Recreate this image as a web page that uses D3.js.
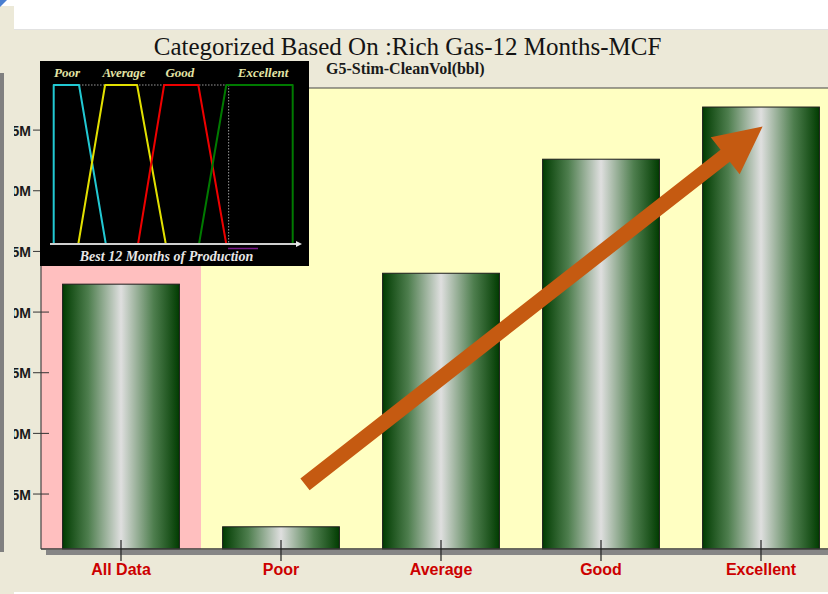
<!DOCTYPE html>
<html>
<head>
<meta charset="utf-8">
<script src="https://cdn.jsdelivr.net/npm/d3@7"></script>
<style>
  html, body { margin: 0; padding: 0; background: #ffffff; }
  svg { display: block; }
</style>
</head>
<body>
<svg id="chart" width="828" height="594"></svg>
<script>
// ---- data ----
const categories = ["All Data", "Poor", "Average", "Good", "Excellent"];
const values = [22.3, 2.3, 23.2, 32.6, 36.9];           // millions of bbl
const yTicks = [5, 10, 15, 20, 25, 30, 35];
const yDomain = [0.47, 38.47];

// membership legend (inset): class names, label centres and trapezoid breakpoints
const insetClasses = ["Poor", "Average", "Good", "Excellent"];
const insetLabelPos = [5.6, 29.4, 52.8, 87.6];
const insetColors = ["#22c8d2", "#e2e000", "#ee0000", "#007a00"];
const insetShapes = [
  [[0, 0], [0, 1], [10.6, 1], [21.8, 0]],
  [[10.3, 0], [21.5, 1], [34.9, 1], [46.9, 0]],
  [[35.3, 0], [46.2, 1], [60.5, 1], [72.2, 0]],
  [[60.8, 0], [72.2, 1], [100, 1], [100, 0]]
];

// trend arrow, in (category position, value) units
const arrowFrom = { pos: 1.15, value: 5.8 };
const arrowTo = { pos: 4.01, value: 35.3 };

const titleText = "Categorized Based On :Rich Gas-12 Months-MCF";
const subtitleText = "G5-Stim-CleanVol(bbl)";
const insetAxisText = "Best 12 Months of Production";

// ---- layout ----
const W = 828, H = 594;
const plot = { left: 41, right: 841, top: 88, bottom: 549 };
const svg = d3.select("#chart");

// page / panel backgrounds
svg.append("rect").attr("x", 0).attr("y", 0).attr("width", W).attr("height", H).attr("fill", "#ffffff");
svg.append("rect").attr("x", 0).attr("y", 6).attr("width", 14).attr("height", H - 6).attr("fill", "#ece9d8");
svg.append("rect").attr("x", 14).attr("y", 29).attr("width", W - 14).attr("height", 563).attr("fill", "#ece9d8");
svg.append("line").attr("x1", 14).attr("x2", W).attr("y1", 29.5).attr("y2", 29.5).attr("stroke", "#e2e2e2");
svg.append("path").attr("d", "M0,0 L7,0 L0,7 Z").attr("fill", "#4a7fd0");
svg.append("rect").attr("x", 0).attr("y", 73).attr("width", 4).attr("height", 479).attr("fill", "#808080");

const defs = svg.append("defs");
defs.append("clipPath").attr("id", "panelClip")
  .append("rect").attr("x", 14).attr("y", 29).attr("width", W - 14).attr("height", 563);

const barGrad = defs.append("linearGradient").attr("id", "barGrad")
  .attr("x1", "0%").attr("x2", "100%").attr("y1", "0%").attr("y2", "0%");
[[0, "#013c01"], [0.22, "#4e7e4e"], [0.5, "#dfdfdf"], [0.78, "#4e7e4e"], [1, "#013c01"]]
  .forEach(([o, c]) => barGrad.append("stop").attr("offset", o).attr("stop-color", c));

const g = svg.append("g").attr("clip-path", "url(#panelClip)");

// scales
const x = d3.scaleBand().domain(categories).range([plot.left, plot.right])
  .paddingInner(0.27).paddingOuter(0.135);
const y = d3.scaleLinear().domain(yDomain).range([plot.bottom, plot.top]);
const step = x.step();
const posX = p => x(categories[0]) + x.bandwidth() / 2 + p * step;

// plot backgrounds: first band highlighted
g.append("rect").attr("x", plot.left).attr("y", plot.top)
  .attr("width", plot.right - plot.left).attr("height", plot.bottom - plot.top).attr("fill", "#ffffc2");
g.append("rect").attr("x", plot.left).attr("y", plot.top)
  .attr("width", x(categories[1]) - x.paddingInner() * step / 2 - plot.left)
  .attr("height", plot.bottom - plot.top).attr("fill", "#ffbfbf");

// frame
g.append("line").attr("x1", plot.left).attr("x2", plot.right).attr("y1", plot.top).attr("y2", plot.top)
  .attr("stroke", "#444").attr("stroke-width", 1.2);
g.append("rect").attr("x", plot.left + 5).attr("y", plot.bottom + 1).attr("width", plot.right - plot.left)
  .attr("height", 5).attr("fill", "#868686");
g.append("line").attr("x1", plot.left).attr("x2", plot.left).attr("y1", plot.top).attr("y2", plot.bottom)
  .attr("stroke", "#444").attr("stroke-width", 1.2);

// bars
g.selectAll("rect.bar").data(categories).join("rect").attr("class", "bar")
  .attr("x", d => x(d)).attr("width", x.bandwidth())
  .attr("y", (d, i) => y(values[i]))
  .attr("height", (d, i) => y.range()[0] - y(values[i]))
  .attr("fill", "url(#barGrad)").attr("stroke", "#1c1c1c").attr("stroke-width", 1);

g.append("line").attr("x1", plot.left).attr("x2", plot.right).attr("y1", plot.bottom).attr("y2", plot.bottom)
  .attr("stroke", "#3a3a3a").attr("stroke-width", 1.5);

// y axis: ticks cross the frame line
const yAxis = d3.axisLeft(y).tickValues(yTicks).tickFormat(d => d + "M").tickSize(0).tickPadding(0);
const yg = g.append("g").attr("transform", `translate(${plot.left - 10},0)`).call(yAxis);
yg.select(".domain").remove();
yg.selectAll("text").attr("font-family", "Liberation Sans, Arial, sans-serif")
  .attr("font-weight", "bold").attr("font-size", 14).attr("fill", "#1a1a1a").attr("dy", "0.36em");
g.selectAll("line.ytick").data(yTicks).join("line").attr("class", "ytick")
  .attr("x1", plot.left - 8).attr("x2", plot.left + 8)
  .attr("y1", d => y(d)).attr("y2", d => y(d)).attr("stroke", "#333").attr("stroke-width", 1);

// x axis labels and ticks
const xAxis = d3.axisBottom(x).tickSize(0).tickPadding(0);
const xg = g.append("g").attr("transform", `translate(0,${plot.bottom})`).call(xAxis);
xg.select(".domain").remove();
xg.selectAll("text").attr("font-family", "Liberation Sans, Arial, sans-serif")
  .attr("font-weight", "bold").attr("font-size", 16).attr("fill", "#cc0000")
  .attr("y", 25.5).attr("dy", null);
g.selectAll("line.xtick").data(categories).join("line").attr("class", "xtick")
  .attr("x1", d => x(d) + x.bandwidth() / 2).attr("x2", d => x(d) + x.bandwidth() / 2)
  .attr("y1", plot.bottom - 9).attr("y2", plot.bottom + 12).attr("stroke", "#222").attr("stroke-width", 1.2);

// trend arrow
(function drawArrow() {
  const x0 = posX(arrowFrom.pos), y0 = y(arrowFrom.value);
  const x1 = posX(arrowTo.pos), y1 = y(arrowTo.value);
  const dx = x1 - x0, dy = y1 - y0, len = Math.hypot(dx, dy);
  const ux = dx / len, uy = dy / len, nx = -uy, ny = ux;
  const shaft = 7.5, head = 23.5, headLen = 47.5;
  const bx = x1 - ux * headLen, by = y1 - uy * headLen;
  const pts = [
    [x0 + nx * shaft, y0 + ny * shaft],
    [bx + nx * shaft, by + ny * shaft],
    [bx + nx * head, by + ny * head],
    [x1, y1],
    [bx - nx * head, by - ny * head],
    [bx - nx * shaft, by - ny * shaft],
    [x0 - nx * shaft, y0 - ny * shaft]
  ];
  g.append("polygon").attr("points", pts.map(p => p.join(",")).join(" ")).attr("fill", "#c55a11");
})();

// titles
g.append("text").attr("x", 407.5).attr("y", 55).attr("text-anchor", "middle")
  .attr("font-family", "Liberation Serif, Times New Roman, serif").attr("font-size", 25)
  .attr("fill", "#141414").text(titleText);
g.append("text").attr("x", 326).attr("y", 74).attr("font-family", "Liberation Serif, Times New Roman, serif")
  .attr("font-weight", "bold").attr("font-size", 16).attr("fill", "#1a1a1a").text(subtitleText);

// ---- inset: class membership sketch ----
const inset = { x: 40, y: 61, w: 269, h: 205 };
const ig = g.append("g");
ig.append("rect").attr("x", inset.x).attr("y", inset.y).attr("width", inset.w).attr("height", inset.h)
  .attr("fill", "#000");
const ix = d3.scaleLinear().domain([0, 100]).range([53.7, 292.7]);
const iy = d3.scaleLinear().domain([0, 1]).range([244, 85]);

ig.append("line").attr("x1", ix(10.6)).attr("x2", ix(72.2)).attr("y1", iy(1)).attr("y2", iy(1))
  .attr("stroke", "#9a9a9a").attr("stroke-width", 1).attr("stroke-dasharray", "1.5,1.5");
ig.append("line").attr("x1", ix(73.2)).attr("x2", ix(73.2)).attr("y1", iy(1)).attr("y2", iy(0))
  .attr("stroke", "#9a9a9a").attr("stroke-width", 1).attr("stroke-dasharray", "1.5,1.5");

const line = d3.line().x(d => ix(d[0])).y(d => iy(d[1]));
ig.selectAll("path.member").data(insetShapes).join("path").attr("class", "member")
  .attr("d", line).attr("fill", "none")
  .attr("stroke", (d, i) => insetColors[i]).attr("stroke-width", 2).attr("stroke-linejoin", "round");

// inset axis with arrowhead
ig.append("line").attr("x1", 50).attr("x2", 297).attr("y1", iy(0)).attr("y2", iy(0))
  .attr("stroke", "#cfcfcf").attr("stroke-width", 2);
ig.append("path").attr("d", `M296,${iy(0) - 3} L302,${iy(0)} L296,${iy(0) + 3} Z`).attr("fill", "#e8e8e8");
ig.append("line").attr("x1", 228).attr("x2", 258).attr("y1", 248.5).attr("y2", 248.5)
  .attr("stroke", "#7a1a8a").attr("stroke-width", 1.5);

ig.selectAll("text.cls").data(insetClasses).join("text").attr("class", "cls")
  .attr("x", (d, i) => ix(insetLabelPos[i])).attr("y", 77).attr("text-anchor", "middle")
  .attr("font-family", "Liberation Serif, Times New Roman, serif").attr("font-style", "italic")
  .attr("font-weight", "bold").attr("font-size", 13).attr("fill", "#e4e4a6").text(d => d);
ig.append("text").attr("x", 166.5).attr("y", 261).attr("text-anchor", "middle")
  .attr("font-family", "Liberation Serif, Times New Roman, serif").attr("font-style", "italic")
  .attr("font-weight", "bold").attr("font-size", 14).attr("fill", "#e6e6e6").text(insetAxisText);
</script>
</body>
</html>
